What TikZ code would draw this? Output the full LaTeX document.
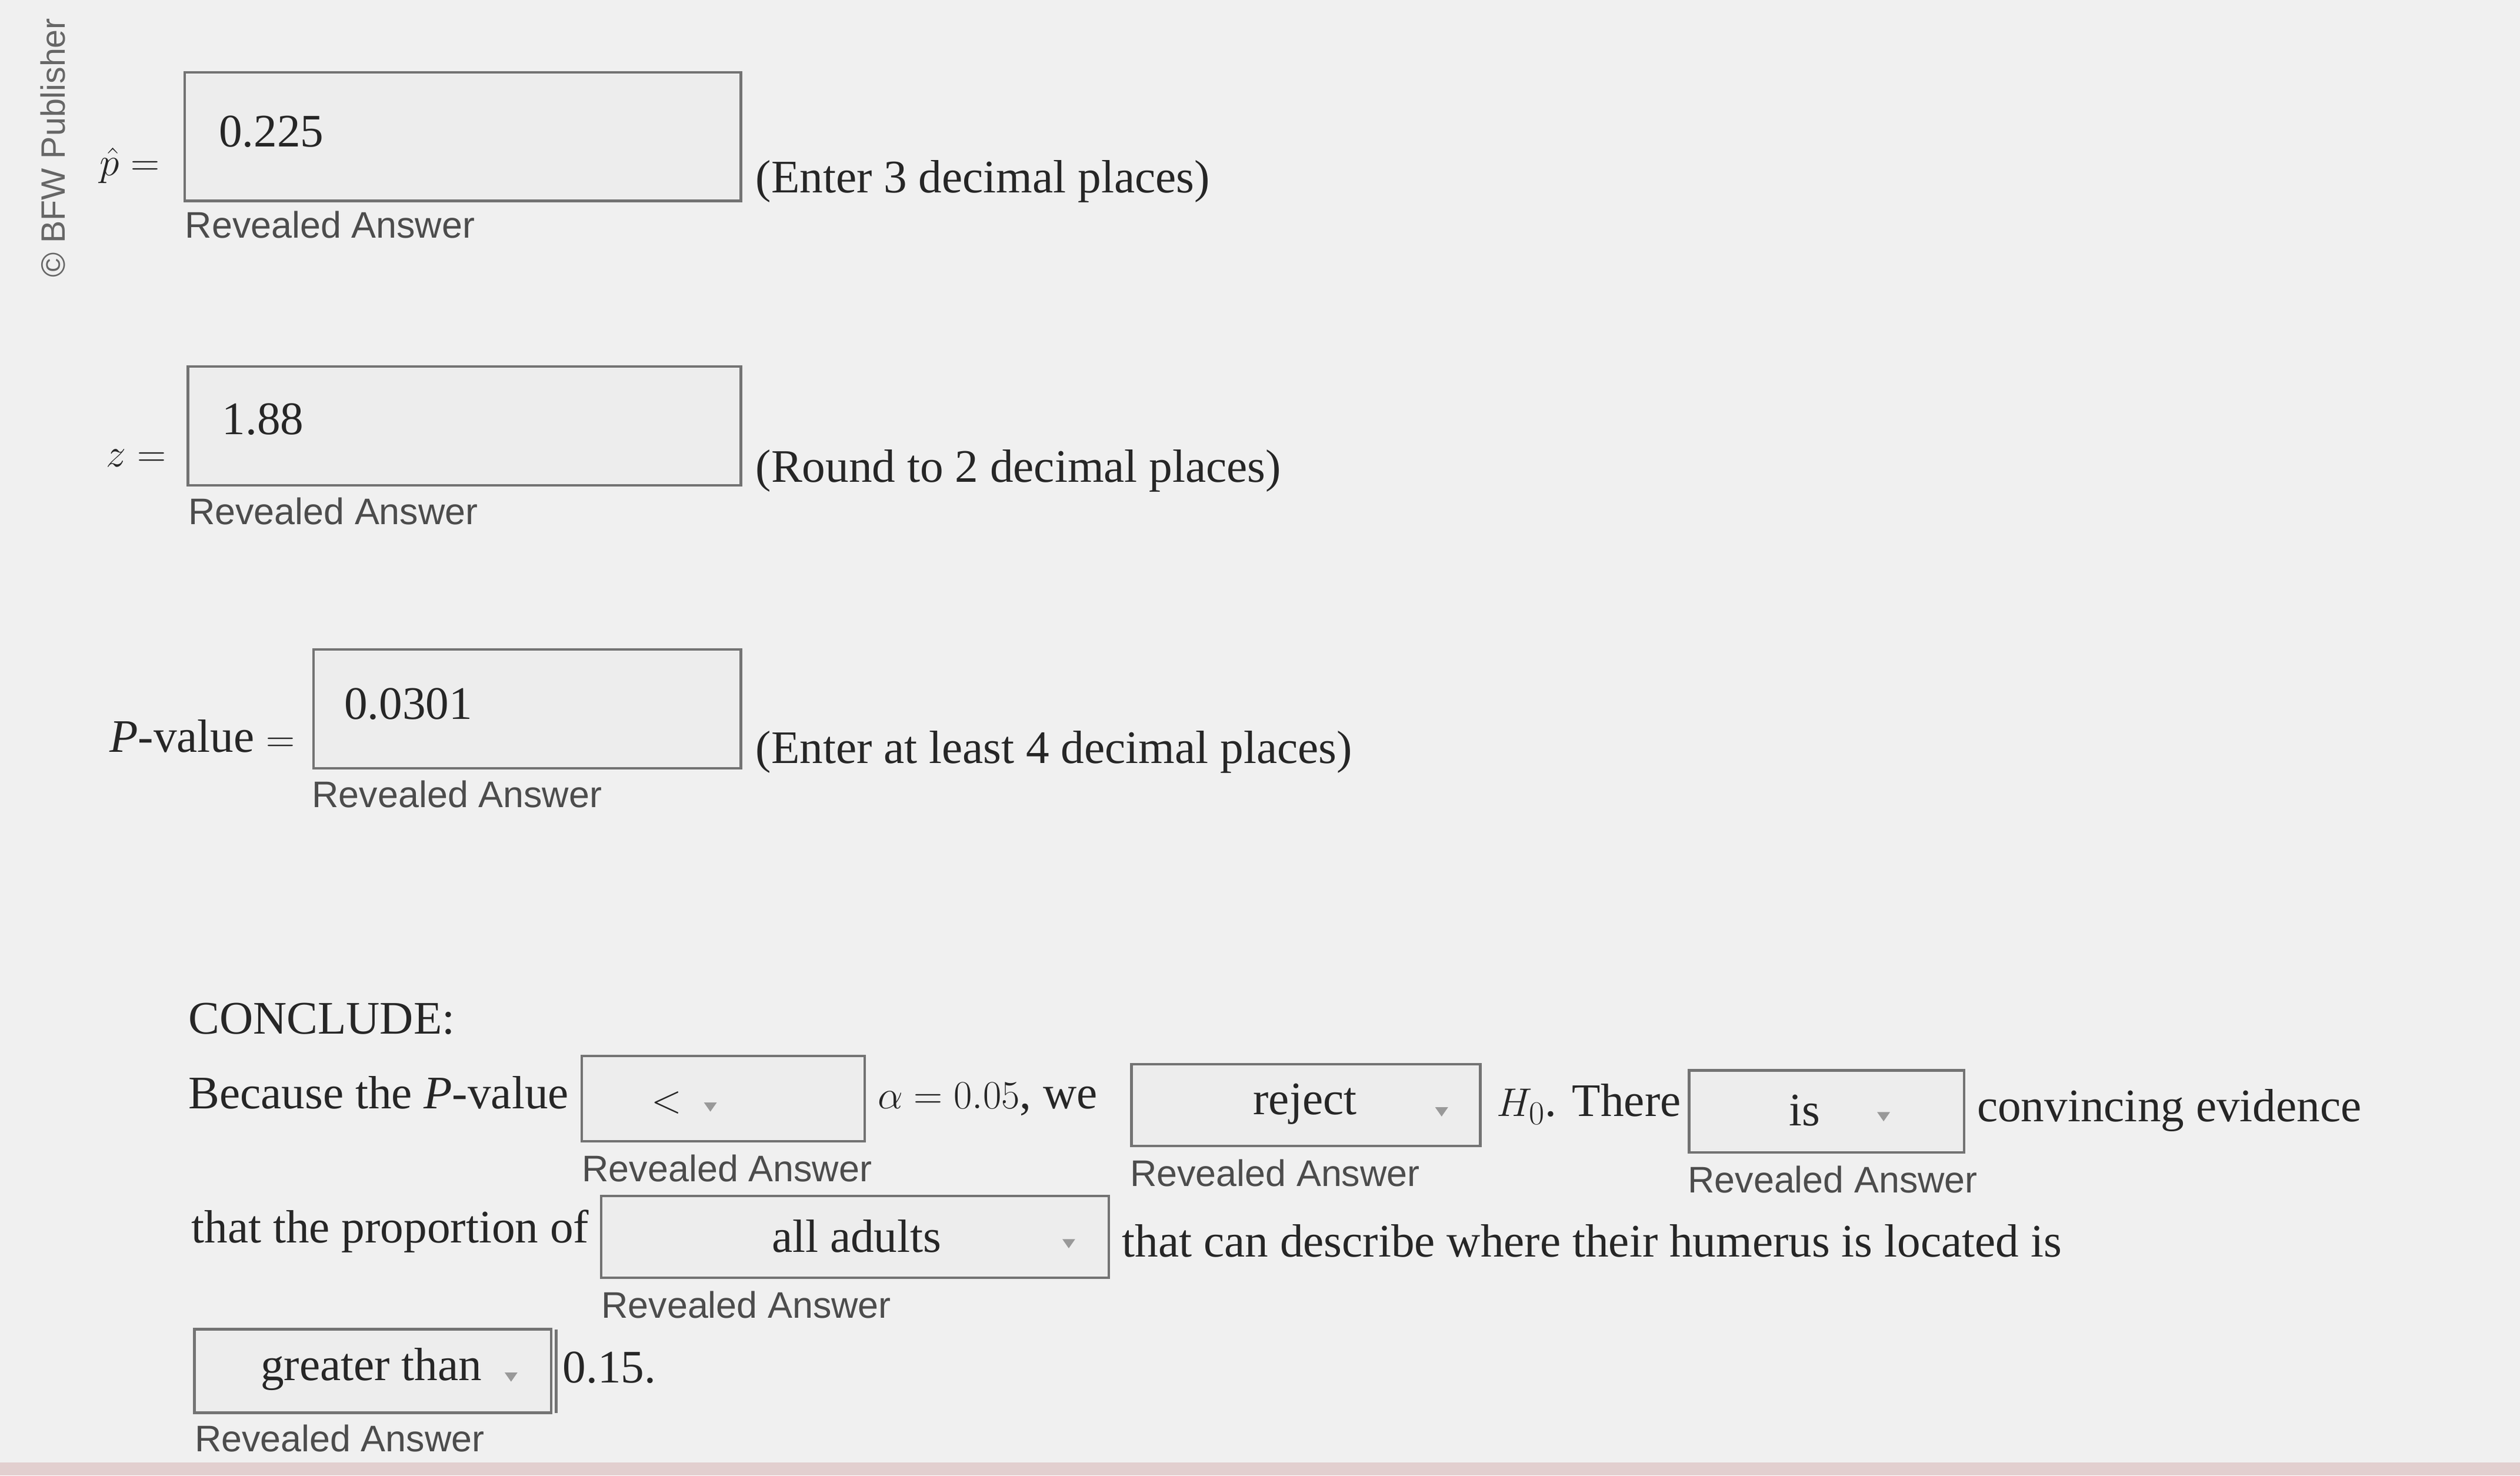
\documentclass[tikz,border=0pt]{standalone}
\usetikzlibrary{shapes.geometric}
\usepackage{fontspec}
\setmainfont{Liberation Serif}
\newfontfamily\ra{Liberation Sans}
\begin{document}
\begin{tikzpicture}[x=1pt,y=-1pt,
 every node/.style={inner sep=0pt,anchor=west,text=black!85},
 txt/.style={font=\fontsize{29}{32}\selectfont},
 rev/.style={font=\ra\fontsize{23}{26}\selectfont,text=black!70},
 ansbox/.style={draw=black!55,line width=1.6pt,fill=gray!14},
 dd/.style={fill=black!40,inner sep=0pt,isosceles triangle,isosceles triangle apex angle=70,shape border rotate=-90,minimum width=8pt,minimum height=5pt,anchor=center}]
\fill[gray!12] (0,0) rectangle (1568,918);
\fill[red!25!gray!30] (0,910) rectangle (1568,918);
\useasboundingbox (0,0) rectangle (1568,918);
\node[rotate=90,anchor=center,text=black!60,font=\ra\fontsize{21}{24}\selectfont] (bfw) at (33,92) {© BFW Publisher};
% p hat
\node[txt] (ph) at (62,103) {$\hat{p} =$};
\draw[ansbox] (115,45) rectangle (461,125);
\node[txt] (v1) at (136,82) {0.225};
\node[txt] (h1) at (470,113) {(Enter 3 decimal places)};
\node[rev] (r1) at (115,140) {Revealed Answer};
% z
\node[txt] (zz) at (66,285) {$z =$};
\draw[ansbox] (117,228) rectangle (461,302);
\node[txt] (v2) at (138,261) {1.88};
\node[txt] (h2) at (470,293) {(Round to 2 decimal places)};
\node[rev] (r2) at (117,318) {Revealed Answer};
% P-value
\node[txt] (pv) at (68,458) {\textit{P}-value $=$};
\draw[ansbox] (195,404) rectangle (461,478);
\node[txt] (v3) at (214,438) {0.0301};
\node[txt] (h3) at (470,468) {(Enter at least 4 decimal places)};
\node[rev] (r3) at (194,494) {Revealed Answer};
% conclude
\node[txt] (cc) at (117,634) {CONCLUDE:};
\node[txt] (b1) at (117,680) {Because the \textit{P}-value};
\draw[ansbox] (362,657) rectangle (538,710);
\node[txt] (lt) at (405,686) {$<$};
\node[dd] (d1) at (442,688) {};
\node[txt] (al) at (546,684) {$\alpha = 0.05$, we};
\draw[ansbox] (704,662) rectangle (921,713);
\node[txt,anchor=center] (rj) at (812,687) {reject};
\node[dd] (d2) at (897,691) {};
\node[txt] (h0) at (931,687) {$H_0$. There};
\draw[ansbox] (1051,666) rectangle (1222,717);
\node[txt,anchor=center] (is) at (1123,691) {is};
\node[dd] (d3) at (1172,694) {};
\node[txt] (ce) at (1230,691) {convincing evidence};
\node[rev] (r4) at (362,727) {Revealed Answer};
\node[rev] (r5) at (703,730) {Revealed Answer};
\node[rev] (r6) at (1050,734) {Revealed Answer};
\node[txt] (tp) at (119,766) {that the proportion of};
\draw[ansbox] (374,744) rectangle (690,795);
\node[txt,anchor=center] (aa) at (533,769) {all adults};
\node[dd] (d4) at (665,773) {};
\node[txt] (hu) at (698,772) {that can describe where their humerus is located is};
\node[rev] (r7) at (374,812) {Revealed Answer};
\draw[ansbox] (121,827) rectangle (343,879);
\node[txt,anchor=center] (gt) at (231,852) {greater than};
\node[dd] (d5) at (318,856) {};
\draw[black!55,line width=1.6pt] (346,827) -- (346,879);
\node[txt] (fv) at (350,851) {0.15.};
\node[rev] (r8) at (121,895) {Revealed Answer};
\end{tikzpicture}
\end{document}
